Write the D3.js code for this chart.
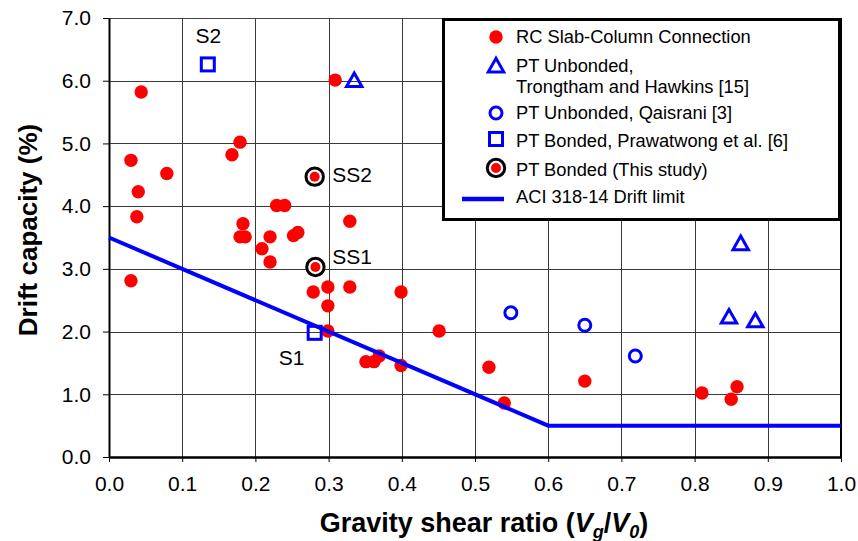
<!DOCTYPE html>
<html lang="en">
<head>
  <meta charset="UTF-8">
  <title>Drift capacity vs gravity shear ratio</title>
  <style>
    body { margin: 0; background: #fff; }
    #chart { display: block; font-family: "Liberation Sans", Arial, sans-serif; }
  </style>
</head>
<body>
  <svg id="chart"></svg>

  <script src="https://d3js.org/d3.v7.min.js"></script>
  <script>
    const width = 858;
    const height = 541;
    const margin = { top: 18, right: 17, bottom: 84, left: 109 };

    // data: [Vg/V0, drift %]
    const rcSlabColumn = [
      [0.044, 5.82], [0.030, 4.73], [0.079, 4.52], [0.040, 4.23], [0.038, 3.83], [0.030, 2.81],
      [0.309, 6.01], [0.168, 4.82], [0.179, 5.02], [0.183, 3.72], [0.179, 3.51], [0.186, 3.51],
      [0.229, 4.01], [0.240, 4.01], [0.220, 3.51], [0.209, 3.32], [0.220, 3.11], [0.252, 3.53],
      [0.258, 3.58], [0.329, 3.76], [0.279, 2.63], [0.299, 2.71], [0.329, 2.71], [0.399, 2.63],
      [0.299, 2.41], [0.299, 2.01], [0.451, 2.01], [0.351, 1.52], [0.362, 1.52], [0.369, 1.61],
      [0.399, 1.46], [0.519, 1.43], [0.540, 0.86], [0.650, 1.21], [0.810, 1.02], [0.850, 0.92],
      [0.858, 1.12]
    ];
    const ptUnbondedTrongtham = [[0.335, 6.0], [0.863, 3.40], [0.847, 2.23], [0.883, 2.17]];
    const ptUnbondedQaisrani = [[0.549, 2.30], [0.650, 2.10], [0.719, 1.61]];
    const ptBondedPrawatwong = [[0.135, 6.26], [0.281, 1.98]];
    const ptBondedThisStudy = [[0.281, 4.47], [0.282, 3.03]];
    const aciDriftLimit = [[0, 3.5], [0.6, 0.5], [1.0, 0.5]];

    const specimenLabels = [
      { name: "S2", x: 0.118, y: 6.6 },
      { name: "SS2", x: 0.305, y: 4.38 },
      { name: "SS1", x: 0.305, y: 3.07 },
      { name: "S1", x: 0.232, y: 1.46 }
    ];

    const xTicks = d3.range(0, 1.0001, 0.1);
    const yTicks = d3.range(0, 7.0001, 1);

    const legendItems = [
      { type: "rc", lines: ["RC Slab-Column Connection"] },
      { type: "tri", lines: ["PT Unbonded,", "Trongtham and Hawkins [15]"] },
      { type: "circ", lines: ["PT Unbonded, Qaisrani [3]"] },
      { type: "sq", lines: ["PT Bonded, Prawatwong et al. [6]"] },
      { type: "ss", lines: ["PT Bonded (This study)"] },
      { type: "line", lines: ["ACI 318-14 Drift limit"] }
    ];

    const svg = d3.select("#chart")
      .attr("width", width)
      .attr("height", height);

    const x = d3.scaleLinear().domain([0, 1]).range([margin.left, width - margin.right]);
    const y = d3.scaleLinear().domain([0, 7]).range([height - margin.bottom, margin.top]);

    const blue = "#0000ff";
    const red = "#ff0000";

    // grid
    svg.append("g")
      .selectAll("line.vg")
      .data(xTicks.slice(1, -1))
      .join("line")
      .attr("x1", d => Math.round(x(d)) + 0.5).attr("x2", d => Math.round(x(d)) + 0.5)
      .attr("y1", y(7)).attr("y2", y(0))
      .attr("stroke", "#3a3a3a").attr("stroke-width", 1);
    svg.append("g")
      .selectAll("line.hg")
      .data(yTicks.slice(1, -1))
      .join("line")
      .attr("y1", d => Math.round(y(d)) + 0.5).attr("y2", d => Math.round(y(d)) + 0.5)
      .attr("x1", x(0)).attr("x2", x(1))
      .attr("stroke", "#3a3a3a").attr("stroke-width", 1);

    // frame: top thin, right thick
    svg.append("line")
      .attr("x1", x(0)).attr("x2", x(1)).attr("y1", y(7) + 0.5).attr("y2", y(7) + 0.5)
      .attr("stroke", "#444").attr("stroke-width", 1);
    svg.append("line")
      .attr("x1", x(1)).attr("x2", x(1)).attr("y1", y(7)).attr("y2", y(0))
      .attr("stroke", "#000").attr("stroke-width", 2);

    // axes
    const xAxis = svg.append("g")
      .attr("transform", `translate(0,${y(0)})`)
      .call(d3.axisBottom(x).tickValues(xTicks).tickFormat(d3.format(".1f")).tickSizeOuter(0).tickSizeInner(5).tickPadding(14));
    xAxis.select(".domain").attr("stroke", "#000").attr("stroke-width", 2.5);
    xAxis.selectAll(".tick line").attr("stroke", "#000");
    xAxis.selectAll("text").attr("font-size", 21).attr("fill", "#000");

    const yAxis = svg.append("g")
      .attr("transform", `translate(${x(0)},0)`)
      .call(d3.axisLeft(y).tickValues(yTicks).tickFormat(d3.format(".1f")).tickSizeOuter(0).tickSizeInner(6).tickPadding(12));
    yAxis.select(".domain").attr("stroke", "#000").attr("stroke-width", 2);
    yAxis.selectAll(".tick line").attr("stroke", "#000");
    yAxis.selectAll("text").attr("font-size", 21).attr("fill", "#000");

    // axis titles
    svg.append("text")
      .attr("transform", `translate(37,230) rotate(-90)`)
      .attr("text-anchor", "middle")
      .attr("font-size", 26).attr("font-weight", "bold")
      .text("Drift capacity (%)");

    const xt = svg.append("text")
      .attr("x", 484).attr("y", 532)
      .attr("text-anchor", "middle")
      .attr("font-size", 27).attr("font-weight", "bold");
    xt.append("tspan").text("Gravity shear ratio (");
    xt.append("tspan").attr("font-style", "italic").text("V");
    xt.append("tspan").attr("font-style", "italic").attr("font-size", 18).attr("dy", 6).text("g");
    xt.append("tspan").attr("dy", -6).text("/");
    xt.append("tspan").attr("font-style", "italic").text("V");
    xt.append("tspan").attr("font-style", "italic").attr("font-size", 18).attr("dy", 6).text("0");
    xt.append("tspan").attr("dy", -6).text(")");

    // marker drawers
    const triPath = s => `M0,${-s * 0.55}L${s * 0.55},${s * 0.42}L${-s * 0.55},${s * 0.42}Z`;

    function drawMarker(g, type) {
      if (type === "rc") {
        g.append("circle").attr("r", 6.7).attr("fill", red);
      } else if (type === "tri") {
        g.append("path").attr("d", triPath(14)).attr("fill", "none")
          .attr("stroke", blue).attr("stroke-width", 3).attr("stroke-linejoin", "miter");
      } else if (type === "circ") {
        g.append("circle").attr("r", 6).attr("fill", "none")
          .attr("stroke", blue).attr("stroke-width", 3);
      } else if (type === "sq") {
        g.append("rect").attr("x", -6.5).attr("y", -6.5).attr("width", 13).attr("height", 13)
          .attr("fill", "none").attr("stroke", blue).attr("stroke-width", 3);
      } else if (type === "ss") {
        g.append("circle").attr("r", 8.7).attr("fill", "#fff")
          .attr("stroke", "#000").attr("stroke-width", 3);
        g.append("circle").attr("r", 5).attr("fill", red);
      }
    }

    function plotSeries(data, type) {
      svg.append("g")
        .selectAll("g")
        .data(data)
        .join("g")
        .attr("transform", d => `translate(${x(d[0])},${y(d[1])})`)
        .each(function () { drawMarker(d3.select(this), type); });
    }

    plotSeries(rcSlabColumn, "rc");
    plotSeries(ptUnbondedTrongtham, "tri");
    plotSeries(ptUnbondedQaisrani, "circ");
    plotSeries(ptBondedPrawatwong, "sq");
    plotSeries(ptBondedThisStudy, "ss");

    // ACI drift limit line
    svg.append("path")
      .datum(aciDriftLimit)
      .attr("fill", "none")
      .attr("stroke", blue)
      .attr("stroke-width", 4)
      .attr("d", d3.line().x(d => x(d[0])).y(d => y(d[1])));

    // specimen labels
    svg.append("g")
      .selectAll("text")
      .data(specimenLabels)
      .join("text")
      .attr("x", d => x(d.x))
      .attr("y", d => y(d.y))
      .attr("font-size", 21)
      .text(d => d.name);

    // legend
    const legend = svg.append("g");
    legend.append("rect")
      .attr("x", 443.5).attr("y", 19.5).attr("width", 396).attr("height", 200)
      .attr("fill", "#fff").attr("stroke", "#000").attr("stroke-width", 3);

    const rowBase = [43, 72, 119, 147, 176, 203];
    const symY = [37, 66, 113, 139, 168, 199];

    legendItems.forEach((item, i) => {
      const g = legend.append("g").attr("transform", `translate(496,${symY[i]})`);
      if (item.type === "line") {
        g.append("line").attr("x1", -34).attr("x2", 8).attr("y1", 0).attr("y2", 0)
          .attr("stroke", blue).attr("stroke-width", 4.5);
      } else {
        drawMarker(g, item.type);
      }
      item.lines.forEach((t, j) => {
        legend.append("text")
          .attr("x", 516).attr("y", rowBase[i] + j * 21)
          .attr("font-size", 18.3)
          .text(t);
      });
    });
  </script>
</body>
</html>
